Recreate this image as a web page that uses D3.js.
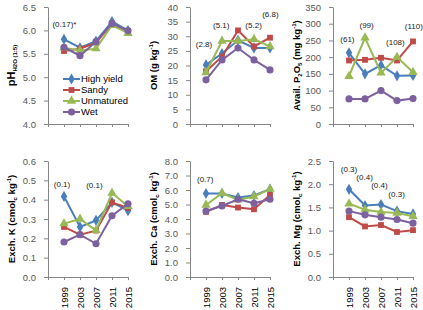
<!DOCTYPE html>
<html>
<head>
<meta charset="utf-8">
<script src="https://cdn.jsdelivr.net/npm/d3@7"></script>
<style>
  body { margin: 0; background: #fff; }
  svg { display: block; font-family: "Liberation Sans", Arial, sans-serif; }
</style>
</head>
<body>
<svg id="chart" width="423" height="310"></svg>
<script>
// --- data ---
const years = [1999, 2003, 2007, 2011, 2015];
const seriesNames = ["High yield", "Sandy", "Unmatured", "Wet"];

// one row per series, in seriesNames order
const phValues = [
  [5.81, 5.63, 5.77, 6.19, 6.00],
  [5.56, 5.61, 5.74, 6.14, 5.99],
  [5.63, 5.57, 5.61, 6.11, 5.94],
  [5.64, 5.46, 5.76, 6.15, 5.99]
];
const omValues = [
  [20.2, 24.1, 28.6, 26.0, 26.0],
  [18.0, 23.0, 32.0, 26.5, 29.5],
  [17.6, 28.4, 28.4, 29.0, 26.5],
  [15.1, 21.9, 26.0, 21.9, 18.5]
];
const pValues = [
  [213, 150, 176, 144, 145],
  [190, 192, 198, 190, 247],
  [143, 258, 153, 200, 155],
  [75, 75, 100, 70, 76]
];
const kValues = [
  [0.417, 0.259, 0.293, 0.386, 0.343],
  [0.259, 0.219, 0.240, 0.386, 0.357],
  [0.276, 0.300, 0.241, 0.434, 0.366],
  [0.181, 0.219, 0.172, 0.317, 0.379]
];
const caValues = [
  [5.76, 5.76, 5.48, 5.62, 6.06],
  [4.49, 4.97, 4.79, 4.67, 5.66],
  [4.97, 5.78, 5.32, 5.55, 6.06],
  [4.55, 4.90, 5.36, 5.09, 5.36]
];
const mgValues = [
  [1.89, 1.54, 1.56, 1.42, 1.36],
  [1.29, 1.09, 1.12, 0.97, 1.01],
  [1.58, 1.45, 1.40, 1.38, 1.31],
  [1.42, 1.34, 1.29, 1.24, 1.16]
];

// LSD notes: [year, value, text]
const phNotes = [[1999.1, 6.14, "(0.17)*"]];
const omNotes = [[1998.5, 27.4, "(2.8)"], [2002.8, 33.8, "(5.1)"], [2010.9, 33.8, "(5.2)"], [2015.1, 37.6, "(6.8)"]];
const pNotes = [[1998.6, 254, "(61)"], [2003.4, 296, "(99)"], [2010.6, 245, "(108)"], [2015.2, 293, "(110)"]];
const kNotes = [[1998.5, 0.482, "(0.1)"], [2006.6, 0.477, "(0.1)"]];
const caNotes = [[1998.8, 6.76, "(0.7)"]];
const mgNotes = [[1999.0, 2.33, "(0.3)"], [2002.9, 2.16, "(0.4)"], [2006.6, 1.98, "(0.4)"], [2010.9, 1.79, "(0.3)"]];

const colors = ["#4A7EBB", "#BE4B48", "#98B954", "#7D60A0"];
const shapes = [d3.symbolDiamond, d3.symbolSquare, d3.symbolTriangle, d3.symbolCircle];
const shapeSizes = [36, 34, 38, 40];

const svg = d3.select("#chart");

const colX = [48, 190, 333];
const rowY = [[7, 124], [161, 277]];
const plotW = 80;

// title parts: [text, kind] with kind "" | "sub" | "sup" | "big"
const panels = [
  { values: phValues, notes: phNotes, col: 0, row: 0, max: 6.5, min: 4, step: 0.5, fmt: ".1f",
    title: [["pH", "big"], ["H2O (1:5)", "sub"]], legend: true },
  { values: omValues, notes: omNotes, col: 1, row: 0, max: 40, min: 0, step: 5, fmt: "d",
    title: [["OM (g kg", ""], ["-1", "sup"], [")", ""]] },
  { values: pValues, notes: pNotes, col: 2, row: 0, max: 350, min: 0, step: 50, fmt: "d",
    title: [["Avail. P", ""], ["2", "sub"], ["O", ""], ["5", "sub"], [" (mg kg", ""], ["-1", "sup"], [")", ""]] },
  { values: kValues, notes: kNotes, col: 0, row: 1, max: 0.6, min: 0, step: 0.1, fmt: ".1f",
    title: [["Exch. K (cmol", ""], ["c", "sub"], [" kg", ""], ["-1", "sup"], [")", ""]] },
  { values: caValues, notes: caNotes, col: 1, row: 1, max: 8, min: 0, step: 1, fmt: ".1f",
    title: [["Exch. Ca (cmol", ""], ["c", "sub"], [" kg", ""], ["-1", "sup"], [")", ""]] },
  { values: mgValues, notes: mgNotes, col: 2, row: 1, max: 2.5, min: 0, step: 0.5, fmt: ".1f",
    title: [["Exch. Mg (cmol", ""], ["c", "sub"], [" kg", ""], ["-1", "sup"], [")", ""]] }
];

panels.forEach(p => {
  const x0 = colX[p.col];
  const [yTop, yBot] = rowY[p.row];

  const x = d3.scaleLinear().domain([1995, 2015]).range([x0, x0 + plotW]);
  const y = d3.scaleLinear().domain([p.min, p.max]).range([yBot, yTop]);

  const g = svg.append("g");

  // y axis
  const yTicks = d3.range(0, Math.round((p.max - p.min) / p.step) + 1).map(i => p.min + i * p.step);
  const yAxis = g.append("g")
    .attr("transform", `translate(${x0},0)`)
    .call(d3.axisLeft(y).tickValues(yTicks).tickFormat(d3.format(p.fmt)).tickSize(4).tickSizeOuter(0).tickPadding(8));
  yAxis.select(".domain").attr("stroke", "#868686");
  yAxis.selectAll(".tick line").attr("stroke", "#868686");
  yAxis.selectAll("text").attr("fill", "#595959").attr("font-size", 9.5);

  // x axis
  const xAxis = g.append("g")
    .attr("transform", `translate(0,${yBot})`)
    .call(d3.axisBottom(x).tickValues([1995].concat(years)).tickSize(3).tickSizeOuter(0)
      .tickFormat(d => (p.row === 1 && d !== 1995) ? d : ""));
  xAxis.select(".domain").attr("stroke", "#868686").attr("d", `M${x0 - 4},0.5H${x0 + plotW}`);
  xAxis.selectAll(".tick line").attr("stroke", "#868686");
  xAxis.selectAll("text")
    .attr("fill", "#000")
    .attr("font-size", 9.5)
    .attr("transform", "rotate(-90)")
    .attr("text-anchor", "end")
    .attr("x", -10).attr("y", 0).attr("dy", "0.35em");

  // y title
  const tx = x0 - 33, ty = (yTop + yBot) / 2;
  const title = g.append("text")
    .attr("transform", `translate(${tx},${ty}) rotate(-90)`)
    .attr("text-anchor", "middle")
    .attr("font-size", 9.5)
    .attr("font-weight", "bold")
    .attr("fill", "#000");
  p.title.forEach(([t, kind]) => {
    const ts = title.append("tspan").text(t);
    if (kind === "big") ts.attr("font-size", 11);
    if (kind === "sub") ts.attr("font-size", 6).attr("baseline-shift", "-2");
    if (kind === "sup") ts.attr("font-size", 6).attr("baseline-shift", "4");
  });

  // series
  const line = d3.line().x((d, i) => x(years[i])).y(d => y(d));
  p.values.forEach((vals, s) => {
    g.append("path")
      .attr("d", line(vals))
      .attr("fill", "none")
      .attr("stroke", colors[s])
      .attr("stroke-width", 2);
    g.selectAll(null)
      .data(vals)
      .enter()
      .append("path")
      .attr("transform", (d, i) => `translate(${x(years[i])},${y(d)})`)
      .attr("d", d3.symbol().type(shapes[s]).size(shapeSizes[s]))
      .attr("fill", colors[s]);
  });

  // notes
  p.notes.forEach(([yr, v, t]) => {
    g.append("text")
      .attr("x", x(yr)).attr("y", y(v))
      .attr("dy", "0.35em")
      .attr("text-anchor", "middle")
      .attr("font-size", 8)
      .attr("fill", "#222")
      .text(t);
  });

  // legend
  if (p.legend) {
    const lg = g.append("g").attr("transform", `translate(${x0 + 15},79)`);
    seriesNames.forEach((name, s) => {
      const row = lg.append("g").attr("transform", `translate(0,${s * 11})`);
      row.append("line").attr("x1", 0).attr("x2", 17).attr("stroke", colors[s]).attr("stroke-width", 2);
      row.append("path")
        .attr("transform", "translate(8.5,0)")
        .attr("d", d3.symbol().type(shapes[s]).size(shapeSizes[s]))
        .attr("fill", colors[s]);
      row.append("text")
        .attr("x", 18).attr("dy", "0.35em")
        .attr("font-size", 9.5)
        .attr("fill", "#000")
        .text(name);
    });
  }
});
</script>
</body>
</html>
